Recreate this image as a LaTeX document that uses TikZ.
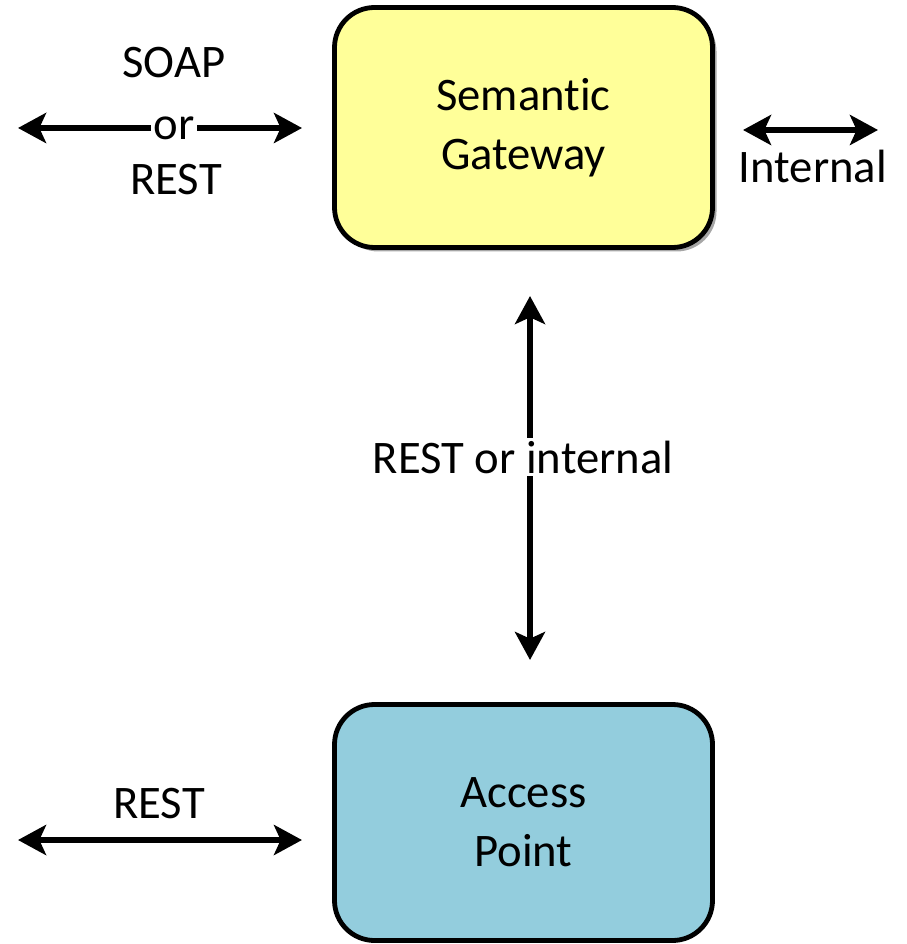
\documentclass[tikz,border=0pt]{standalone}
\usepackage{fontspec}
\setmainfont{Carlito}[Ligatures=NoCommon]
\usepackage{tikz}
\usetikzlibrary{arrows.meta,shadows}

\definecolor{gwyellow}{RGB}{255,255,153}
\definecolor{apblue}{RGB}{147,205,221}

\tikzset{
	box/.style={draw=black, line width=3.6pt, rounded corners=30pt,
		minimum width=283.5pt, minimum height=180pt, inner sep=0pt, align=center},
	link/.style={{Stealth[length=21pt,width=22.5pt,inset=5pt]}-{Stealth[length=21pt,width=22.5pt,inset=5pt]}, line width=4.3pt},
	gap/.style={fill=white, inner sep=2pt}
}

\begin{document}
\begin{tikzpicture}[x=0.75pt, y=-0.75pt, font=\fontsize{35}{44.25}\selectfont]
\useasboundingbox (0,0) rectangle (906,944);
% boxes
\node[box, fill=gwyellow, drop shadow={shadow xshift=3pt, shadow yshift=-3pt, opacity=0.35, fill=black}] (gw) at (523.5,127.5) {Semantic\\Gateway};
\node[box, fill=apblue, minimum height=177pt] (ap) at (523.5,822.5) {Access\\Point};
% arrow ends
\coordinate (soapL) at (18,128);
\coordinate (soapR) at (302,128);
\coordinate (intL) at (743,130);
\coordinate (intR) at (878,130);
\coordinate (restL) at (18,840);
\coordinate (restR) at (302,840);
\coordinate (gwS) at (530,296);
\coordinate (apN) at (530,660);
\path[link]
(soapL) edge node [gap, pos=0.55] (or) {or} (soapR)
(intL) edge (intR)
(restL) edge (restR)
(gwS) edge (apN);
% labels
\node[anchor=base] (soap) at (174,78) {SOAP};
\node[anchor=base] (rest1) at (176,195) {REST};
\node[anchor=base] (internal) at (813,183) {Internal};
\node[anchor=base] (rest2) at (159,818) {REST};
\node[gap] (ri) at (523,457) {REST or internal};
\end{tikzpicture}
\end{document}
